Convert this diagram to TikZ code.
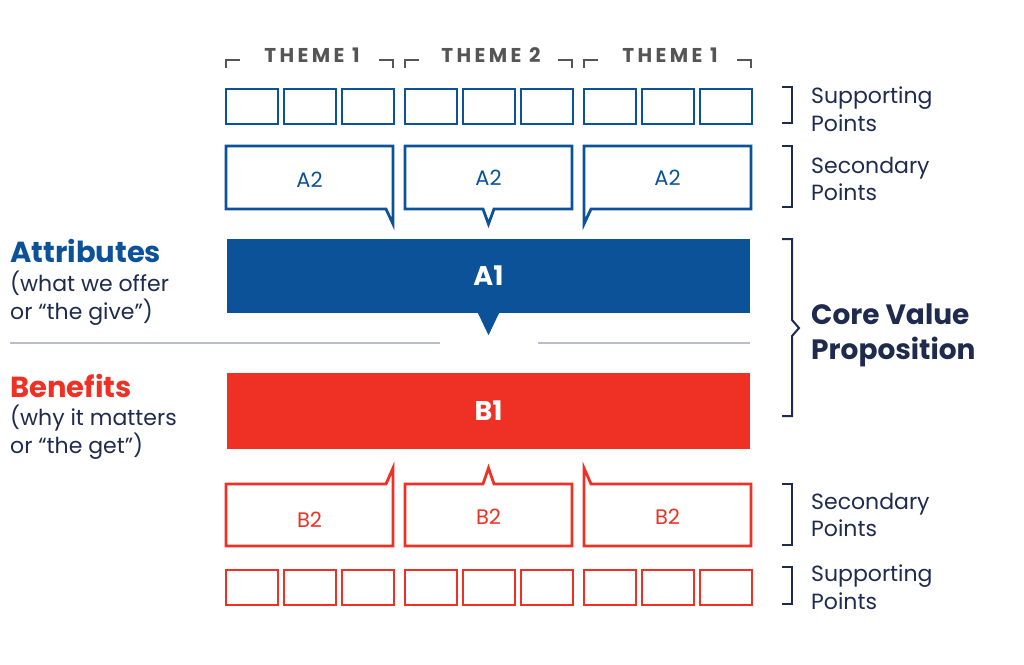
\documentclass[tikz,border=0pt]{standalone}
\usepackage{fontspec}
\setmainfont{Poppins}
\usetikzlibrary{positioning}
\definecolor{attrblue}{HTML}{0B5299}
\definecolor{benred}{HTML}{EE3124}
\definecolor{navy}{HTML}{1E2B4F}
\definecolor{themegray}{HTML}{555555}
\definecolor{rulegray}{HTML}{B9BFCC}
\tikzset{
  ptbox/.style={line width=2.6pt, line join=miter},
  bubble/.style={line width=2.8pt, line join=miter},
  themetext/.style={text=themegray, inner sep=0pt,
    font=\fontsize{20}{22}\selectfont\bfseries\addfontfeature{LetterSpace=17}},
  sidetext/.style={text=navy, anchor=west, align=left, inner sep=0pt,
    font=\fontsize{22}{27.5}\selectfont},
  bartext/.style={text=white, font=\fontsize{27}{30}\selectfont\bfseries},
  bar/.style={inner sep=0pt, minimum width=523pt, minimum height=74pt},
  brack/.style={navy, line width=2pt}
}

\begin{document}
\begin{tikzpicture}[x=1pt,y=-1pt]
                \useasboundingbox (0,0) rectangle (1024,664);

                % Theme headers with corner marks
                \foreach \g/\t in {0/1, 1/2, 2/1} {
                    \pgfmathsetmacro\gx{226+179*\g}
                    \draw[themegray, line width=1.5pt] (\gx,68) -- (\gx,60) -- (\gx+14,60);
                    \draw[themegray, line width=1.5pt] (\gx+153,60) -- (\gx+167,60) -- (\gx+167,68);
                    \node[themetext] (theme\g) at (\gx+86,55) {THEME \t};
                }

                % Supporting points, top (blue) and bottom (red)
                \foreach \g in {0,1,2}
                    \foreach \b in {0,1,2} {
                        \pgfmathsetmacro\bx{226+179*\g+58*\b}
                        \draw[ptbox, attrblue] (\bx,89) rectangle (\bx+52,124);
                        \draw[ptbox, benred] (\bx,570) rectangle (\bx+52,605);
                    }

                % Secondary points A2, tails pointing down
                \draw[bubble, attrblue] (226,146) -- (393,146) -- (393,224) -- (386,209) -- (226,209) -- cycle; %left
                \draw[bubble, attrblue] (405,146) -- (572,146) -- (572,209) -- (494,209) -- (488.5,224) -- (483,209) -- (405,209) -- cycle; %middle
                \draw[bubble, attrblue] (584,146) -- (751,146) -- (751,209) -- (591,209) -- (584,224) -- cycle; %right
                \node[text=attrblue, font=\fontsize{21}{22}\selectfont] (a2l) at (309.5,180) {A2};
                \node[text=attrblue, font=\fontsize{21}{22}\selectfont] (a2m) at (488.5,178) {A2};
                \node[text=attrblue, font=\fontsize{21}{22}\selectfont] (a2r) at (667.5,178) {A2};

                % Core bars
                \node[bar, fill=attrblue, bartext] (a1) at (488.5,276) {A1};
                \fill[attrblue] (a1.south) ++(-11,-1) -- ++(22,0) -- ++(-11,23) -- cycle;
                \node[bar, fill=benred, bartext, minimum height=76pt] (b1) at (488.5,411) {B1};

                % Divider
                \draw[rulegray, line width=1.5pt] (10,343) -- (440,343);
                \draw[rulegray, line width=1.5pt] (538,343) -- (750,343);

                % Secondary points B2, tails pointing up
                \draw[bubble, benred] (226,484) -- (386,484) -- (393,468) -- (393,546) -- (226,546) -- cycle; %left
                \draw[bubble, benred] (405,484) -- (483,484) -- (488.5,468) -- (494,484) -- (572,484) -- (572,546) -- (405,546) -- cycle; %middle
                \draw[bubble, benred] (584,468) -- (591,484) -- (751,484) -- (751,546) -- (584,546) -- cycle; %right
                \node[text=benred, font=\fontsize{21}{22}\selectfont] (b2l) at (309.5,520) {B2};
                \node[text=benred, font=\fontsize{21}{22}\selectfont] (b2m) at (488.5,517) {B2};
                \node[text=benred, font=\fontsize{21}{22}\selectfont] (b2r) at (667.5,517) {B2};

                % Left labels
                \node[anchor=west, inner sep=0pt, text=attrblue, font=\fontsize{29}{30}\selectfont\bfseries] (attr) at (10,251) {Attributes};
                \node[sidetext] (attrsub) at (10,298) {(what we offer\\or “the give”)};
                \node[anchor=west, inner sep=0pt, text=benred, font=\fontsize{29}{30}\selectfont\bfseries] (ben) at (10,386) {Benefits};
                \node[sidetext] (bensub) at (10,432) {(why it matters\\or “the get”)};

                % Right brackets
                \draw[brack] (782,87) -- (792,87) -- (792,123) -- (782,123);
                \node[sidetext] (sup1) at (811,109) {Supporting\\Points};
                \draw[brack] (782,146) -- (792,146) -- (792,207) -- (782,207);
                \node[sidetext] (sec1) at (811,179) {Secondary\\Points};
                \draw[brack] (782,239) -- (792,239) -- (792,320) -- (799,328) -- (792,336) -- (792,416) -- (782,416);
                \node[sidetext, font=\fontsize{28}{35}\selectfont\bfseries] (cvp) at (811,335) {Core Value\\Proposition};
                \draw[brack] (782,484) -- (792,484) -- (792,545) -- (782,545);
                \node[sidetext] (sec2) at (811,515) {Secondary\\Points};
                \draw[brack] (782,567) -- (792,567) -- (792,604) -- (782,604);
                \node[sidetext] (sup2) at (811,587) {Supporting\\Points};
\end{tikzpicture}
\end{document}
